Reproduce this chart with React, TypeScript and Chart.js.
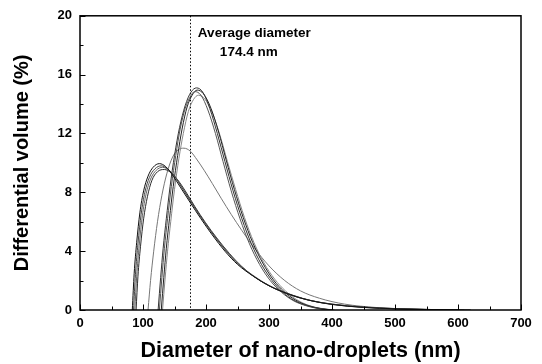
import React, { useEffect, useRef } from 'react';
import { Chart, registerables } from 'chart.js';

Chart.register(...registerables);

const FONT = 'Arial, "Liberation Sans", Helvetica, sans-serif';

// ---- Data (diameter nm, differential volume %) ----
const curveA1: number[][] = [[83,0],[86,2.5],[90,4.6],[95,6.6],[101,8.1],[108,9.1],[116,9.7],[126,9.95],[136,9.75],[148,9.1],[160,8.3],[175,7.3],[192,6.2],[210,5.1],[230,4.0],[250,3.1],[275,2.3],[300,1.65],[330,1.1],[360,0.7],[400,0.38],[450,0.18],[500,0.08],[550,0.03],[600,0]];
const curveA2: number[][] = [[85,0],[88,2.4],[92,4.5],[97,6.5],[103,8.0],[110,9.0],[119,9.6],[129,9.8],[139,9.6],[150,9.1],[162,8.3],[177,7.3],[194,6.2],[212,5.1],[232,4.0],[252,3.1],[277,2.25],[302,1.6],[332,1.05],[362,0.68],[400,0.38],[450,0.17],[500,0.08],[560,0.03],[610,0]];
const curveA3: number[][] = [[87,0],[90,2.3],[94,4.4],[99,6.4],[105,7.9],[112,8.9],[121,9.5],[131,9.7],[141,9.5],[152,9.0],[164,8.2],[180,7.1],[197,6.0],[215,4.95],[235,3.9],[255,3.0],[280,2.2],[305,1.55],[335,1.02],[365,0.65],[400,0.4],[450,0.19],[500,0.09],[560,0.03],[620,0]];
const curveA4: number[][] = [[89,0],[92,2.3],[96,4.3],[101,6.2],[107,7.7],[114,8.8],[123,9.4],[134,9.55],[144,9.35],[155,8.85],[167,8.1],[182,7.05],[199,5.95],[217,4.9],[237,3.85],[257,2.95],[282,2.1],[308,1.5],[338,1.0],[368,0.63],[400,0.4],[450,0.2],[500,0.1],[560,0.03],[620,0]];
const curveB1: number[][] = [[124,0],[128,2.2],[132,4.2],[137,6.2],[143,8.4],[150,10.5],[158,12.4],[167,13.9],[176,14.8],[185,15.1],[195,14.8],[206,13.7],[218,12.0],[230,10.1],[243,8.1],[257,6.2],[272,4.5],[288,3.1],[305,2.0],[322,1.2],[340,0.65],[360,0.3],[380,0.1],[400,0]];
const curveB2: number[][] = [[126,0],[130,2.2],[134,4.2],[139,6.2],[145,8.4],[152,10.5],[159,12.3],[167,13.7],[175,14.5],[182,14.85],[192,14.6],[203,13.6],[215,12.0],[227,10.1],[240,8.1],[254,6.2],[269,4.5],[285,3.1],[302,2.0],[320,1.2],[338,0.65],[358,0.3],[378,0.1],[395,0]];
const curveB3: number[][] = [[129,0],[133,2.2],[137,4.2],[142,6.2],[148,8.4],[155,10.5],[162,12.3],[170,13.8],[178,14.6],[186,14.95],[196,14.7],[208,13.7],[220,12.1],[232,10.2],[245,8.2],[259,6.3],[274,4.6],[290,3.2],[307,2.05],[324,1.25],[342,0.68],[362,0.3],[382,0.1],[402,0]];
const curveB4: number[][] = [[131,0],[135,2.1],[139,4.0],[144,6.0],[150,8.2],[157,10.3],[164,12.0],[172,13.5],[180,14.3],[188,14.6],[198,14.35],[210,13.4],[222,11.9],[234,10.1],[247,8.2],[261,6.3],[276,4.6],[292,3.2],[309,2.1],[326,1.3],[344,0.7],[364,0.3],[384,0.1],[404,0]];
const curveC1: number[][] = [[108,0],[112,2.0],[117,4.0],[123,6.0],[130,7.8],[138,9.3],[147,10.4],[156,10.9],[165,11.0],[175,10.8],[186,10.2],[197,9.5],[210,8.6],[224,7.6],[240,6.5],[257,5.4],[277,4.2],[300,3.0],[325,2.0],[350,1.3],[380,0.8],[420,0.4],[470,0.17],[520,0.06],[580,0]];

const curves = [curveA1, curveA2, curveA3, curveA4, curveB1, curveB2, curveB3, curveB4, curveC1];
const curveColors = ['#111111', '#444444', '#666666', '#2a2a2a', '#333333', '#555555', '#222222', '#888888', '#777777'];

const xTickValues = [0, 100, 200, 300, 400, 500, 600, 700];
const xMinorValues = [50, 150, 250, 350, 450, 550, 650];
const yTickValues = [0, 4, 8, 12, 16, 20];
const yMinorValues = [2, 6, 10, 14, 18];

const AVG_DIAMETER = 174.4;
const annotLine1 = 'Average diameter';
const annotLine2 = '174.4 nm';

const overlayPlugin = {
  id: 'overlay',
  beforeDatasetsDraw(chart: any) {
    const { ctx, chartArea, scales } = chart;
    const px = scales.x.getPixelForValue(AVG_DIAMETER);
    ctx.save();
    ctx.strokeStyle = '#000';
    ctx.lineWidth = 1;
    ctx.setLineDash([1.5, 2]);
    ctx.beginPath();
    ctx.moveTo(Math.round(px) + 0.5, chartArea.top);
    ctx.lineTo(Math.round(px) + 0.5, chartArea.bottom);
    ctx.stroke();
    ctx.restore();
  },
  afterDraw(chart: any) {
    const { ctx, chartArea, scales } = chart;
    const { left, right, top, bottom } = chartArea;
    ctx.save();
    ctx.strokeStyle = '#000';
    ctx.lineWidth = 1.5;
    ctx.strokeRect(left, top, right - left, bottom - top);
    ctx.lineWidth = 1;
    ctx.beginPath();
    xTickValues.forEach((v) => {
      const p = Math.round(scales.x.getPixelForValue(v)) + 0.5;
      ctx.moveTo(p, bottom); ctx.lineTo(p, bottom - 5.5);
    });
    xMinorValues.forEach((v) => {
      const p = Math.round(scales.x.getPixelForValue(v)) + 0.5;
      ctx.moveTo(p, bottom); ctx.lineTo(p, bottom - 3.5);
    });
    yTickValues.forEach((v) => {
      const p = Math.round(scales.y.getPixelForValue(v)) + 0.5;
      ctx.moveTo(left, p); ctx.lineTo(left + 5.5, p);
    });
    yMinorValues.forEach((v) => {
      const p = Math.round(scales.y.getPixelForValue(v)) + 0.5;
      ctx.moveTo(left, p); ctx.lineTo(left + 3.5, p);
    });
    ctx.stroke();
    const ax = scales.x.getPixelForValue(AVG_DIAMETER);
    ctx.fillStyle = '#000';
    ctx.font = `bold 13.5px ${FONT}`;
    ctx.textBaseline = 'middle';
    ctx.textAlign = 'left';
    ctx.fillText(annotLine1, ax + 8, 33);
    ctx.fillText(annotLine2, ax + 30, 52);
    ctx.restore();
  },
};

export default function App() {
  const canvasRef = useRef<HTMLCanvasElement | null>(null);

  useEffect(() => {
    if (!canvasRef.current) return;
    const chart = new Chart(canvasRef.current, {
      type: 'line',
      data: {
        datasets: curves.map((c, i) => ({
          label: `run ${i + 1}`,
          data: c.map(([x, y]) => ({ x, y })),
          borderColor: curveColors[i],
          borderWidth: 1,
          pointRadius: 0,
          fill: false,
          cubicInterpolationMode: 'monotone' as const,
        })),
      },
      options: {
        animation: false,
        responsive: false,
        devicePixelRatio: 1,
        layout: { padding: { top: 15, right: 21, left: 0, bottom: 0 } },
        plugins: { legend: { display: false }, tooltip: { enabled: false } },
        scales: {
          x: {
            type: 'linear',
            min: 0,
            max: 700,
            afterFit: (s: any) => { s.height = 54; },
            afterBuildTicks: (s: any) => { s.ticks = xTickValues.map((v) => ({ value: v })); },
            grid: { display: false, drawTicks: false },
            border: { display: false },
            ticks: { font: { family: FONT, size: 13, weight: 'bold' }, color: '#000', padding: 6, maxRotation: 0, autoSkip: false },
            title: { display: true, text: 'Diameter of nano-droplets (nm)', color: '#000', font: { family: FONT, size: 21.5, weight: 'bold' }, padding: { top: 0, bottom: 0 } },
          },
          y: {
            type: 'linear',
            min: 0,
            max: 20,
            afterFit: (s: any) => { s.width = 80; },
            afterBuildTicks: (s: any) => { s.ticks = yTickValues.map((v) => ({ value: v })); },
            grid: { display: false, drawTicks: false },
            border: { display: false },
            ticks: { font: { family: FONT, size: 13, weight: 'bold' }, color: '#000', padding: 8 },
            title: { display: true, text: 'Differential volume (%)', color: '#000', font: { family: FONT, size: 20, weight: 'bold' }, padding: { top: 10, bottom: 0 } },
          },
        },
      },
      plugins: [overlayPlugin],
    });
    return () => chart.destroy();
  }, []);

  return (
    <div style={{ position: 'fixed', left: 0, top: 0, width: 542, height: 364, background: '#fff' }}>
      <canvas ref={canvasRef} width={542} height={364} style={{ display: 'block', width: 542, height: 364 }} />
    </div>
  );
}
